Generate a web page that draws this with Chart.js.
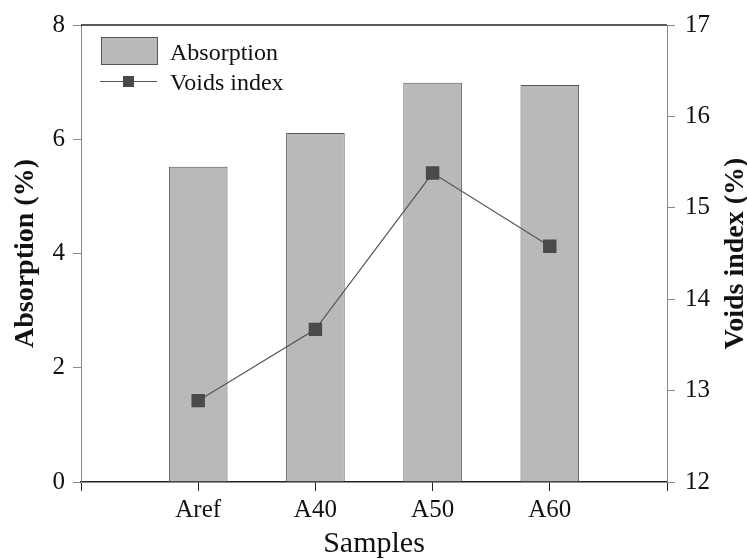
<!DOCTYPE html>
<html lang="en">
<head>
    <meta charset="UTF-8">
    <title>Absorption and voids index</title>
    <script src="https://cdn.jsdelivr.net/npm/chart.js"></script>
    <style>
        html, body { margin: 0; padding: 0; background: #fff; }
        .chart-container { width: 747px; height: 559px; position: relative; }
    </style>
</head>
<body>
    <div class="chart-container">
        <canvas id="mainChart"></canvas>
    </div>

    <script>
        // Samples along the x axis (blank slots pad both ends)
        const samples = ['Aref', 'A40', 'A50', 'A60'];
        const absorption = [5.52, 6.11, 6.99, 6.95];   // %
        const voidsIndex = [12.89, 13.67, 15.38, 14.58]; // %

        const absorptionTicks = [0, 2, 4, 6, 8];
        const voidsTicks = [12, 13, 14, 15, 16, 17];

        const serif = 'Liberation Serif, Times New Roman, serif';
        const ink = '#111';
        const barFill = '#b9b9b9';
        const barEdge = '#555';
        const markFill = '#4a4a4a';

        const labels = [''].concat(samples, ['']);
        const pad = arr => [null].concat(arr, [null]);

        // Legend box drawn inside the plot, top left
        const innerLegend = {
            id: 'innerLegend',
            afterDraw(chart) {
                const ctx = chart.ctx;
                const bars = chart.data.datasets[1];
                const line = chart.data.datasets[0];
                ctx.save();
                ctx.fillStyle = barFill;
                ctx.strokeStyle = barEdge;
                ctx.lineWidth = 1;
                ctx.fillRect(101, 37, 56, 27);
                ctx.strokeRect(101.5, 37.5, 56, 27);

                ctx.strokeStyle = line.borderColor;
                ctx.lineWidth = 1.2;
                ctx.beginPath();
                ctx.moveTo(100, 81.5);
                ctx.lineTo(157, 81.5);
                ctx.stroke();
                ctx.fillStyle = markFill;
                ctx.fillRect(123, 76, 11, 11);

                ctx.fillStyle = ink;
                ctx.font = '24px ' + serif;
                ctx.textBaseline = 'alphabetic';
                ctx.fillText(bars.label, 170, 60);
                ctx.fillText(line.label, 170, 90);
                ctx.restore();
            }
        };

        // Top frame line and the right axis title (reads bottom to top)
        const frameExtras = {
            id: 'frameExtras',
            afterDraw(chart) {
                const ctx = chart.ctx;
                const area = chart.chartArea;
                ctx.save();
                ctx.strokeStyle = '#222';
                ctx.lineWidth = 1.5;
                ctx.beginPath();
                ctx.moveTo(area.left, area.top);
                ctx.lineTo(area.right, area.top);
                ctx.stroke();

                ctx.translate(736, (area.top + area.bottom) / 2);
                ctx.rotate(-Math.PI / 2);
                ctx.fillStyle = ink;
                ctx.font = 'bold 28px ' + serif;
                ctx.textAlign = 'center';
                ctx.textBaseline = 'middle';
                ctx.fillText('Voids index (%)', 0, 0);
                ctx.restore();
            }
        };

        const ctx = document.getElementById('mainChart').getContext('2d');
        const chart = new Chart(ctx, {
            type: 'bar',
            data: {
                labels: labels,
                datasets: [
                    {
                        type: 'line',
                        label: 'Voids index',
                        data: pad(voidsIndex),
                        yAxisID: 'y1',
                        borderColor: '#555',
                        borderWidth: 1.2,
                        pointStyle: 'rect',
                        pointRadius: 9.5,
                        pointBackgroundColor: markFill,
                        pointBorderColor: markFill,
                        pointBorderWidth: 0,
                        spanGaps: false,
                        order: 0
                    },
                    {
                        label: 'Absorption',
                        data: pad(absorption),
                        yAxisID: 'y',
                        backgroundColor: barFill,
                        borderColor: barEdge,
                        borderWidth: 1,
                        categoryPercentage: 1,
                        barPercentage: 0.5,
                        order: 1
                    }
                ]
            },
            options: {
                responsive: true,
                maintainAspectRatio: false,
                animation: false,
                layout: { padding: { top: 25, left: 0, right: 0, bottom: 0 } },
                plugins: {
                    legend: { display: false },
                    tooltip: { enabled: false }
                },
                scales: {
                    x: {
                        type: 'category',
                        offset: false,
                        afterFit: s => { s.height = 77; },
                        grid: { drawOnChartArea: false, drawTicks: true, tickLength: 9, color: '#222', offset: false },
                        border: { display: true, color: '#222', width: 1.5 },
                        ticks: { color: ink, font: { family: serif, size: 25 }, padding: 4, maxRotation: 0, autoSkip: false },
                        title: { display: true, text: 'Samples', color: ink, font: { family: serif, size: 30, lineHeight: 1 }, padding: { top: 0, bottom: 0 } }
                    },
                    y: {
                        position: 'left',
                        min: 0,
                        max: 8,
                        afterFit: s => { s.width = 81; },
                        afterBuildTicks: s => { s.ticks = absorptionTicks.map(v => ({ value: v })); },
                        grid: { drawOnChartArea: false, drawTicks: true, tickLength: 8, color: '#888' },
                        border: { display: true, color: '#888', width: 1 },
                        ticks: { color: ink, font: { family: serif, size: 25 }, padding: 8 },
                        title: { display: true, text: 'Absorption (%)', color: ink, font: { family: serif, size: 28, weight: 'bold', lineHeight: 1 }, padding: { top: 12, bottom: 0 } }
                    },
                    y1: {
                        position: 'right',
                        min: 12,
                        max: 17,
                        afterFit: s => { s.width = 80; },
                        afterBuildTicks: s => { s.ticks = voidsTicks.map(v => ({ value: v })); },
                        grid: { drawOnChartArea: false, drawTicks: true, tickLength: 8, color: '#888' },
                        border: { display: true, color: '#888', width: 1 },
                        ticks: { color: ink, font: { family: serif, size: 25 }, padding: 10 }
                    }
                }
            },
            plugins: [innerLegend, frameExtras]
        });
    </script>
</body>
</html>
